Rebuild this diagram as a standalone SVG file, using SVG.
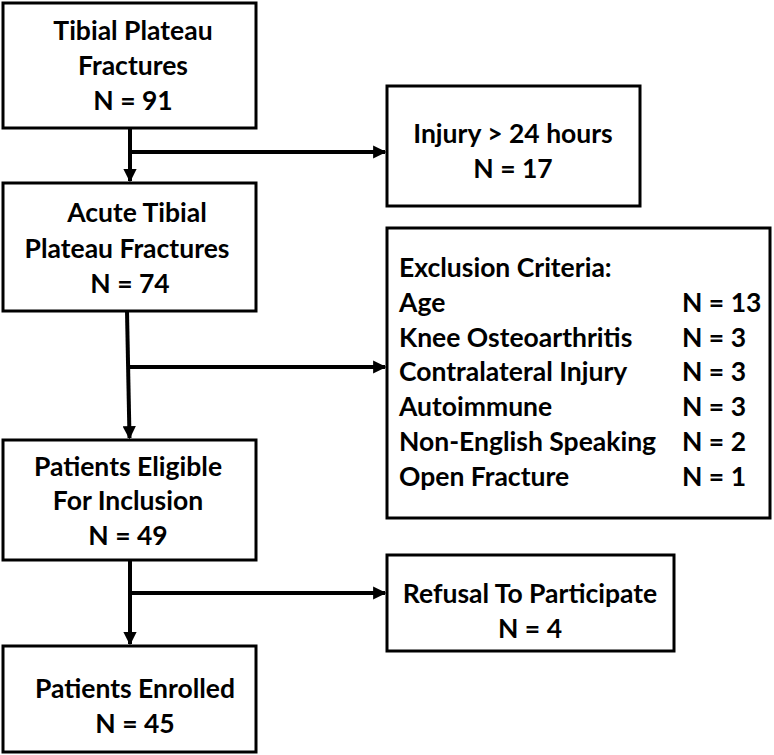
<svg xmlns="http://www.w3.org/2000/svg" width="774" height="755" viewBox="0 0 774 755">
<style>
.box{fill:#fff;stroke:#000;stroke-width:3}
.t{font-family:Lato,"Liberation Sans",sans-serif;font-weight:bold;font-size:26.5px;fill:#000}
.c{text-anchor:middle}
.ln{stroke:#000;stroke-width:4;fill:none}
</style>
<defs>
<marker id="ah" viewBox="0 0 10 10" refX="9" refY="5" markerWidth="3.3" markerHeight="3.3" orient="auto" markerUnits="strokeWidth">
<path d="M0,0 L10,5 L0,10 z" fill="#000"/>
</marker>
</defs>
<rect width="774" height="755" fill="#fff"/>
<g id="connectors">
<path class="ln" d="M130,128 V181" marker-end="url(#ah)"/>
<path class="ln" d="M130,152 H385" marker-end="url(#ah)"/>
<path class="ln" d="M127,311 L129.5,438" marker-end="url(#ah)"/>
<path class="ln" d="M128.5,367 H385" marker-end="url(#ah)"/>
<path class="ln" d="M130,560 V644" marker-end="url(#ah)"/>
<path class="ln" d="M130,593 H385" marker-end="url(#ah)"/>
</g>
<g id="n1">
<rect class="box" x="3" y="3" width="253" height="125"/>
<text class="t c" x="133" y="40">Tibial Plateau</text>
<text class="t c" x="133" y="75">Fractures</text>
<text class="t c" x="133" y="110">N = 91</text>
</g>
<g id="n2">
<rect class="box" x="387" y="86" width="253" height="120"/>
<text class="t c" x="513" y="143">Injury &gt; 24 hours</text>
<text class="t c" x="513" y="178">N = 17</text>
</g>
<g id="n3">
<rect class="box" x="3" y="183" width="253" height="128"/>
<text class="t c" x="137" y="222">Acute Tibial</text>
<text class="t c" x="127" y="258">Plateau Fractures</text>
<text class="t c" x="130" y="293">N = 74</text>
</g>
<g id="n4">
<rect class="box" x="387" y="228" width="383" height="290"/>
<text class="t" x="399" y="277">Exclusion Criteria:</text>
<text class="t" x="399" y="312">Age</text>
<text class="t" x="682" y="312">N = 13</text>
<text class="t" x="399" y="347">Knee Osteoarthritis</text>
<text class="t" x="682" y="347">N = 3</text>
<text class="t" x="399" y="381">Contralateral Injury</text>
<text class="t" x="682" y="381">N = 3</text>
<text class="t" x="399" y="416">Autoimmune</text>
<text class="t" x="682" y="416">N = 3</text>
<text class="t" x="399" y="451">Non-English Speaking</text>
<text class="t" x="682" y="451">N = 2</text>
<text class="t" x="399" y="486">Open Fracture</text>
<text class="t" x="682" y="486">N = 1</text>
</g>
<g id="n5">
<rect class="box" x="3" y="440" width="253" height="120"/>
<text class="t c" x="128" y="476">Patients Eligible</text>
<text class="t c" x="128" y="510">For Inclusion</text>
<text class="t c" x="128" y="545">N = 49</text>
</g>
<g id="n6">
<rect class="box" x="387" y="555" width="287" height="96"/>
<text class="t c" x="530" y="603">Refusal To Participate</text>
<text class="t c" x="530" y="638">N = 4</text>
</g>
<g id="n7">
<rect class="box" x="3" y="646" width="253" height="106"/>
<text class="t c" x="135" y="698">Patients Enrolled</text>
<text class="t c" x="135" y="733">N = 45</text>
</g>
</svg>
